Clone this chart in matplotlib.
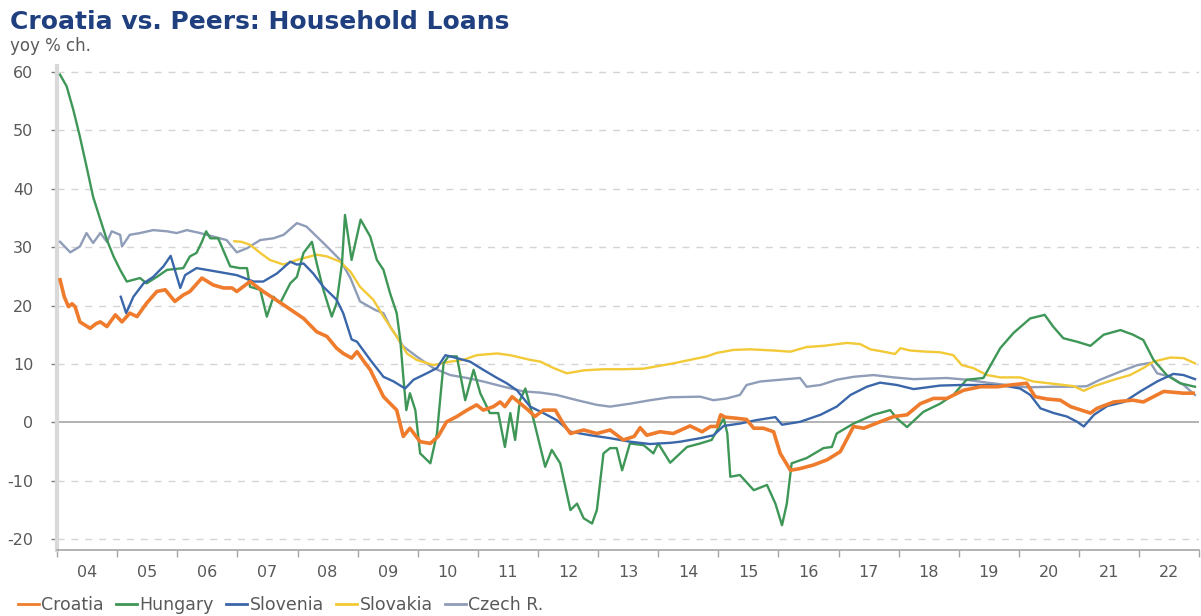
import numpy as np
import matplotlib
matplotlib.use("Agg")
import matplotlib.pyplot as plt

# yoy % change, time as decimal year
croatia_t = [2004.05, 2004.12, 2004.19, 2004.25, 2004.3, 2004.38, 2004.55, 2004.65, 2004.72, 2004.83,
             2004.97, 2005.08, 2005.21, 2005.33, 2005.49, 2005.66, 2005.8, 2005.96, 2006.1, 2006.21,
             2006.41, 2006.6, 2006.77, 2006.91, 2006.99, 2007.21, 2007.43, 2007.77, 2008.1, 2008.32,
             2008.49, 2008.65, 2008.76, 2008.9, 2008.99, 2009.1, 2009.21, 2009.43, 2009.65, 2009.76,
             2009.87, 2010.04, 2010.21, 2010.34, 2010.48, 2010.65, 2010.82, 2010.98, 2011.09, 2011.26,
             2011.37, 2011.45, 2011.57, 2011.7, 2011.84, 2011.95, 2012.09, 2012.29, 2012.42, 2012.54,
             2012.76, 2012.98, 2013.2, 2013.42, 2013.6, 2013.7, 2013.81, 2014.03, 2014.25, 2014.53,
             2014.73, 2014.87, 2014.98, 2015.04, 2015.11, 2015.31, 2015.47, 2015.59, 2015.75, 2015.92,
             2016.03, 2016.2, 2016.36, 2016.58, 2016.81, 2017.03, 2017.25, 2017.42, 2017.69, 2017.92,
             2018.14, 2018.36, 2018.58, 2018.8, 2019.08, 2019.36, 2019.64, 2019.86, 2020.13, 2020.27,
             2020.47, 2020.69, 2020.86, 2021.19, 2021.3, 2021.58, 2021.9, 2022.07, 2022.41, 2022.74,
             2022.9]
croatia_v = [24.4, 21.5, 19.8, 20.3, 19.8, 17.2, 16.1, 16.9, 17.2, 16.4,
             18.4, 17.2, 18.7, 18.1, 20.4, 22.4, 22.7, 20.7, 21.8, 22.4,
             24.7, 23.5, 23.0, 23.0, 22.4, 24.1, 22.4, 20.1, 17.8, 15.5,
             14.7, 12.7, 11.8, 11.0, 12.1, 10.5, 9.0, 4.4, 2.1, -2.4,
             -1.0, -3.3, -3.6, -2.4, 0.1, 1.0, 2.1, 3.0, 2.1, 2.7,
             3.5, 2.7, 4.4, 3.3, 2.1, 1.0, 2.1, 2.1, -0.2, -1.9,
             -1.3, -1.9, -1.3, -3.0, -2.4, -0.9, -2.2, -1.6, -1.9, -0.6,
             -1.6, -0.7, -0.7, 1.3, 0.9, 0.7, 0.5, -1.0, -1.0, -1.6,
             -5.3, -8.2, -7.9, -7.3, -6.4, -5.0, -0.7, -1.0, 0.1, 1.0,
             1.3, 3.2, 4.1, 4.1, 5.5, 6.1, 6.1, 6.4, 6.7, 4.4,
             4.0, 3.8, 2.7, 1.6, 2.4, 3.5, 3.8, 3.5, 5.3, 5.0,
             5.0]

hungary_t = [2004.05, 2004.16, 2004.27, 2004.38, 2004.49, 2004.6, 2004.72, 2004.83, 2004.94, 2005.05,
             2005.16, 2005.27, 2005.38, 2005.49, 2005.66, 2005.83, 2006.1, 2006.21, 2006.32, 2006.41,
             2006.48, 2006.55, 2006.68, 2006.88, 2007.04, 2007.16, 2007.21, 2007.38, 2007.49, 2007.6,
             2007.71, 2007.88, 2007.99, 2008.1, 2008.24, 2008.32, 2008.43, 2008.57, 2008.65, 2008.74,
             2008.79, 2008.9, 2009.05, 2009.21, 2009.32, 2009.43, 2009.54, 2009.65, 2009.71, 2009.76,
             2009.81, 2009.87, 2009.96, 2010.04, 2010.21, 2010.32, 2010.43, 2010.51, 2010.65, 2010.79,
             2010.93, 2011.04, 2011.2, 2011.34, 2011.45, 2011.54, 2011.62, 2011.7, 2011.79, 2011.9,
             2012.01, 2012.12, 2012.23, 2012.37, 2012.54, 2012.65, 2012.76, 2012.9, 2012.98, 2013.09,
             2013.2, 2013.31, 2013.4, 2013.53, 2013.76, 2013.92, 2014.0, 2014.2, 2014.48, 2014.7,
             2014.89, 2015.09, 2015.15, 2015.2, 2015.36, 2015.59, 2015.81, 2015.95, 2016.06, 2016.14,
             2016.22, 2016.47, 2016.75, 2016.89, 2016.97, 2017.25, 2017.58, 2017.86, 2017.97, 2018.14,
             2018.41, 2018.69, 2018.91, 2019.13, 2019.41, 2019.69, 2019.91, 2020.19, 2020.43, 2020.57,
             2020.74, 2020.97, 2021.19, 2021.41, 2021.69, 2021.9, 2022.07, 2022.24, 2022.46, 2022.68,
             2022.93]
hungary_v = [59.5, 57.5, 53.5, 48.9, 43.8, 38.6, 34.7, 31.2, 28.4, 26.1,
             24.1, 24.4, 24.7, 23.8, 24.9, 26.1, 26.4, 28.4, 29.0, 30.9,
             32.7, 31.5, 31.5, 26.7, 26.4, 26.4, 23.2, 22.7, 18.1, 21.5,
             20.4, 23.8, 24.9, 29.0, 30.9, 27.2, 22.7, 18.1, 20.4, 27.2,
             35.5, 27.8, 34.7, 31.8, 27.8, 26.1, 22.1, 18.7, 14.1, 7.8,
             2.1, 5.0, 2.1, -5.3, -7.0, -1.9, 10.1, 11.3, 11.3, 3.8,
             9.0, 5.0, 1.6, 1.6, -4.2, 1.6, -3.0, 3.8, 5.8, 1.6,
             -3.0, -7.6, -4.7, -7.0, -15.0, -13.9, -16.4, -17.3, -15.0, -5.3,
             -4.4, -4.4, -8.2, -3.6, -3.9, -5.3, -3.6, -6.9, -4.2, -3.6,
             -3.0, 0.7, -1.9, -9.3, -9.0, -11.6, -10.7, -13.9, -17.6, -13.9,
             -7.0, -6.1, -4.4, -4.2, -1.9, -0.2, 1.3, 2.1, 0.7, -0.8,
             1.8, 3.2, 4.7, 7.3, 7.6, 12.7, 15.3, 17.8, 18.4, 16.4,
             14.4, 13.8, 13.1, 15.0, 15.8, 15.0, 14.1, 10.7, 8.1, 6.7,
             6.1]

slovenia_t = [2005.06, 2005.15, 2005.27, 2005.44, 2005.6, 2005.77, 2005.89, 2006.05, 2006.13, 2006.32,
              2006.66, 2006.99, 2007.27, 2007.43, 2007.66, 2007.88, 2007.99, 2008.1, 2008.26, 2008.43,
              2008.65, 2008.76, 2008.9, 2008.99, 2009.21, 2009.43, 2009.6, 2009.79, 2009.93, 2010.15,
              2010.32, 2010.46, 2010.65, 2010.87, 2011.09, 2011.32, 2011.48, 2011.65, 2011.87, 2012.09,
              2012.31, 2012.54, 2012.87, 2013.2, 2013.53, 2013.86, 2014.2, 2014.37, 2014.7, 2014.92,
              2015.09, 2015.36, 2015.64, 2015.95, 2016.06, 2016.36, 2016.7, 2016.97, 2017.2, 2017.47,
              2017.69, 2017.97, 2018.25, 2018.47, 2018.69, 2019.03, 2019.47, 2019.8, 2020.02, 2020.19,
              2020.36, 2020.58, 2020.8, 2020.97, 2021.08, 2021.25, 2021.47, 2021.75, 2022.02, 2022.3,
              2022.57, 2022.74, 2022.93]
slovenia_v = [21.5, 18.7, 21.5, 23.8, 24.9, 26.7, 28.5, 23.0, 25.2, 26.4,
              25.8, 25.2, 24.1, 24.1, 25.5, 27.5, 27.0, 27.2, 25.5, 23.2,
              21.0, 18.7, 14.2, 13.8, 10.7, 7.8, 7.0, 5.8, 7.3, 8.4,
              9.3, 11.5, 11.0, 10.4, 9.0, 7.6, 6.7, 5.5, 2.7, 1.6,
              0.4, -1.6, -2.2, -2.7, -3.3, -3.7, -3.5, -3.3, -2.7, -2.2,
              -0.6, -0.2, 0.4, 0.9, -0.4, 0.1, 1.3, 2.7, 4.7, 6.1,
              6.8, 6.4, 5.7, 6.0, 6.3, 6.4, 6.4, 6.2, 5.8, 4.7,
              2.4, 1.6, 1.0, 0.1, -0.7, 1.3, 2.8, 3.5, 5.3, 7.0,
              8.3, 8.1, 7.4]

slovakia_t = [2006.95, 2007.07, 2007.21, 2007.38, 2007.54, 2007.77, 2007.99, 2008.21, 2008.32, 2008.49,
              2008.71, 2008.88, 2009.04, 2009.26, 2009.43, 2009.65, 2009.82, 2009.98, 2010.26, 2010.54,
              2010.76, 2010.98, 2011.32, 2011.54, 2011.87, 2012.04, 2012.26, 2012.48, 2012.76, 2013.09,
              2013.42, 2013.76, 2014.25, 2014.53, 2014.81, 2014.98, 2015.25, 2015.53, 2015.92, 2016.2,
              2016.47, 2016.75, 2017.14, 2017.36, 2017.53, 2017.75, 2017.94, 2018.03, 2018.19, 2018.47,
              2018.69, 2018.91, 2019.05, 2019.24, 2019.47, 2019.69, 2020.02, 2020.24, 2020.58, 2020.91,
              2021.08, 2021.25, 2021.58, 2021.85, 2022.07, 2022.24, 2022.52, 2022.74, 2022.93]
slovakia_v = [31.0, 30.9, 30.4, 29.0, 27.8, 27.0, 27.8, 28.4, 28.7, 28.4,
              27.5, 25.8, 23.2, 21.0, 18.1, 14.7, 11.8, 10.7, 9.8, 10.4,
              10.7, 11.5, 11.8, 11.5, 10.7, 10.4, 9.3, 8.4, 8.9, 9.1,
              9.1, 9.2, 10.1, 10.7, 11.3, 11.9, 12.4, 12.5, 12.3, 12.1,
              12.9, 13.1, 13.6, 13.4, 12.5, 12.1, 11.7, 12.7, 12.3, 12.1,
              12.0, 11.5, 9.8, 9.3, 8.1, 7.7, 7.7, 7.0, 6.6, 6.2,
              5.4, 6.2, 7.3, 8.1, 9.3, 10.4, 11.1, 11.0, 10.1]

czech_t = [2004.05, 2004.22, 2004.38, 2004.49, 2004.6, 2004.72, 2004.83, 2004.91, 2005.05, 2005.08,
           2005.21, 2005.38, 2005.6, 2005.83, 2005.99, 2006.16, 2006.38, 2006.6, 2006.82, 2006.99,
           2007.16, 2007.38, 2007.6, 2007.77, 2007.99, 2008.15, 2008.32, 2008.49, 2008.71, 2008.88,
           2009.04, 2009.3, 2009.43, 2009.54, 2009.76, 2009.98, 2010.26, 2010.54, 2010.82, 2011.09,
           2011.43, 2011.76, 2012.04, 2012.31, 2012.65, 2012.98, 2013.2, 2013.53, 2013.87, 2014.2,
           2014.7, 2014.92, 2015.14, 2015.36, 2015.47, 2015.7, 2016.03, 2016.36, 2016.47, 2016.7,
           2016.97, 2017.25, 2017.58, 2017.92, 2018.25, 2018.8, 2019.13, 2019.47, 2019.8, 2020.13,
           2020.58, 2020.91, 2021.13, 2021.35, 2021.69, 2021.97, 2022.19, 2022.3, 2022.52, 2022.74,
           2022.93]
czech_v = [30.9, 29.1, 30.1, 32.4, 30.7, 32.4, 30.9, 32.7, 32.1, 30.1,
           32.1, 32.4, 32.9, 32.7, 32.4, 32.9, 32.4, 31.8, 31.2, 29.1,
           29.8, 31.2, 31.5, 32.1, 34.1, 33.5, 31.8, 30.1, 27.8, 24.7,
           20.7, 19.2, 18.7, 16.4, 13.0, 11.3, 9.3, 8.1, 7.6, 7.0,
           6.1, 5.3, 5.1, 4.7, 3.8, 3.0, 2.7, 3.2, 3.8, 4.3,
           4.4, 3.8, 4.1, 4.7, 6.4, 7.0, 7.3, 7.6, 6.1, 6.4,
           7.3, 7.8, 8.1, 7.7, 7.4, 7.6, 7.3, 6.8, 6.4, 6.0,
           6.1, 6.1, 6.2, 7.3, 8.7, 9.8, 10.2, 8.4, 7.8, 6.4,
           4.7]

years = list(range(2004, 2023))
year_labels = [f"{y % 100:02d}" for y in years]
y_ticks = [-20, -10, 0, 10, 20, 30, 40, 50, 60]

plt.rcParams['font.family'] = ['DejaVu Sans']
plt.rcParams['axes.unicode_minus'] = False

fig = plt.figure(figsize=(12.01, 6.16), dpi=100)
ax = fig.add_axes([0.0475, 0.107, 0.951, 0.786])

for y in y_ticks:
    if y == 0:
        ax.axhline(0, color='#a6a6a6', lw=1.2, zorder=1)
    else:
        ax.axhline(y, color='#d4d4d4', lw=1.0, ls=(0, (5, 5)), zorder=1)

ax.plot(croatia_t, croatia_v, color='#ef7b2c', lw=2.6, label='Croatia', zorder=7)
ax.plot(hungary_t, hungary_v, color='#3e9657', lw=1.7, label='Hungary', zorder=5)
ax.plot(slovenia_t, slovenia_v, color='#3a66aa', lw=1.7, label='Slovenia', zorder=6)
ax.plot(slovakia_t, slovakia_v, color='#f2c936', lw=1.7, label='Slovakia', zorder=4)
ax.plot(czech_t, czech_v, color='#8f9db8', lw=1.7, label='Czech R.', zorder=3)

ax.set_xlim(2004, 2023)
ax.set_ylim(-21.85, 61)

ax.set_yticks(y_ticks)
ax.set_yticklabels([str(v) for v in y_ticks])
ax.set_xticks(years + [2023])
ax.set_xticklabels([])
ax.set_xticks([y + 0.5 for y in years], minor=True)
ax.set_xticklabels(year_labels, minor=True)

ax.tick_params(axis='y', length=4, width=1, color='#7f7f7f', labelsize=11.5,
               labelcolor='#595959', pad=13)
ax.tick_params(axis='x', which='major', length=5, width=1, color='#a6a6a6', direction='out')
ax.tick_params(axis='x', which='minor', length=0, labelsize=11.5, labelcolor='#595959', pad=11)

for s in ['top', 'right']:
    ax.spines[s].set_visible(False)
ax.spines['left'].set_color('#d9d9d9')
ax.spines['left'].set_linewidth(3)
ax.spines['bottom'].set_color('#a6a6a6')
ax.spines['bottom'].set_linewidth(1.2)

fig.text(0.008, 0.965, 'Croatia vs. Peers: Household Loans', fontsize=18, fontweight='bold',
         color='#1f3f7f', va='center', ha='left')
fig.text(0.008, 0.925, 'yoy % ch.', fontsize=12, color='#595959', va='center', ha='left')

leg = fig.legend(loc='lower left', bbox_to_anchor=(0.002, -0.022), ncol=5, frameon=False,
                 fontsize=12.5, handlelength=1.2, handletextpad=0.15, columnspacing=0.7)
for line in leg.get_lines():
    line.set_linewidth(2)
for txt in leg.get_texts():
    txt.set_color('#595959')

fig.savefig('out.png', dpi=100)
